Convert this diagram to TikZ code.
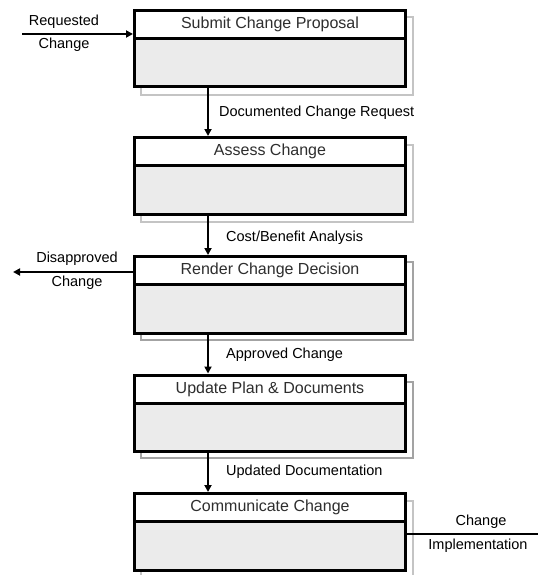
\documentclass[tikz,border=0pt]{standalone}
\usepackage{fontspec}
\setmainfont{Liberation Sans}
\usetikzlibrary{arrows.meta}
\definecolor{bodygray}{HTML}{EBEBEB}
\definecolor{titlegray}{HTML}{2E2E2E}
\definecolor{shadelight}{HTML}{C4C4C4}
\definecolor{shadedark}{HTML}{A3A3A3}
\tikzset{
  stagebox/.style={draw=black, line width=3pt, fill=bodygray, inner sep=0pt,
    minimum width=271pt, minimum height=76.5pt, anchor=north west},
  stagehead/.style={draw=black, line width=3pt, fill=white, inner sep=0pt,
    minimum width=271pt, minimum height=28pt, anchor=north,
    text=titlegray, font=\fontsize{16}{19}\selectfont},
  stageshade/.style={line width=2pt},
  flow/.style={line width=2.2pt, -{Triangle[length=7pt,width=7pt]}},
  plainflow/.style={line width=1.8pt},
  flowlabel/.style={font=\fontsize{14.5}{17}\selectfont, text=black, inner sep=0pt},
}
\begin{document}
\begin{tikzpicture}[x=1pt, y=-1pt]
\useasboundingbox[fill=white] (0,0) rectangle (538,575);

% offset outlines behind each stage
\draw[stageshade, shadelight] (141,17) rectangle (413,95);
\draw[stageshade, shadelight] (141,145) rectangle (413,222);
\draw[stageshade, shadedark]  (141,262) rectangle (413,340);
\draw[stageshade, shadedark]  (141,382) rectangle (413,458);
\draw[stageshade, shadelight] (141,501) rectangle (413,580);

% stages
\node[stagebox] (box1) at (133,9) {};
\node[stagehead] (head1) at (box1.north) {Submit Change Proposal};
\node[stagebox] (box2) at (133,136) {};
\node[stagehead] (head2) at (box2.north) {Assess Change};
\node[stagebox] (box3) at (133,255) {};
\node[stagehead] (head3) at (box3.north) {Render Change Decision};
\node[stagebox] (box4) at (133,373.5) {};
\node[stagehead] (head4) at (box4.north) {Update Plan \& Documents};
\node[stagebox] (box5) at (133,492) {};
\node[stagehead] (head5) at (box5.north) {Communicate Change};

% flows between stages
\draw[flow] ([xshift=75pt]box1.south west) -- ([xshift=75pt]box2.north west);
\draw[flow] ([xshift=75pt]box2.south west) -- ([xshift=75pt]box3.north west);
\draw[flow] ([xshift=75pt]box3.south west) -- ([xshift=75pt]box4.north west);
\draw[flow] ([xshift=75pt]box4.south west) -- ([xshift=75pt]box5.north west);

\node[flowlabel, anchor=west] (l1) at (219,113) {Documented Change Request};
\node[flowlabel, anchor=west] (l2) at (226,238) {Cost/Benefit Analysis};
\node[flowlabel, anchor=west] (l3) at (226,355) {Approved Change};
\node[flowlabel, anchor=west] (l4) at (226,472) {Updated Documentation};

% incoming request
\coordinate (rq) at (22,34);
\draw[flow] (rq) -- (rq -| box1.west);
\node[flowlabel] (rqa) at (64,22) {Requested};
\node[flowlabel] (rqb) at (64,45) {Change};

% rejected changes
\coordinate (dis) at (13,272);
\draw[flow] (dis -| box3.west) -- (dis);
\node[flowlabel] (disa) at (77,259) {Disapproved};
\node[flowlabel] (disb) at (77,283) {Change};

% outgoing implementation
\coordinate (impl) at (538,534);
\draw[plainflow] (impl -| box5.east) -- (impl);
\node[flowlabel] (impla) at (481,522) {Change};
\node[flowlabel] (implb) at (478,546) {Implementation};
\end{tikzpicture}
\end{document}
